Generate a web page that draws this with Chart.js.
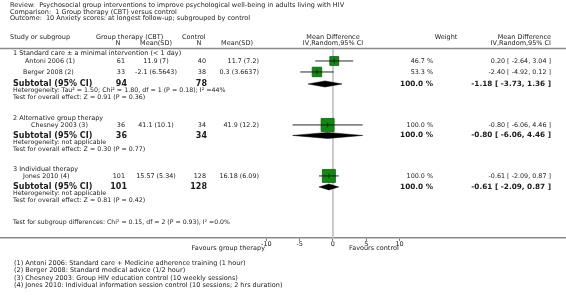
<!DOCTYPE html>
<html><head><meta charset="utf-8">
<script src="https://cdn.jsdelivr.net/npm/chart.js@4"></script>
<style>html,body{margin:0;padding:0;background:#fff;}canvas{display:block;}</style>
</head><body>
<canvas id="c" width="566" height="299"></canvas>
<script>
// ---------- DATA ----------
const reviewTitle = 'Review:  Psychosocial group interventions to improve psychological well-being in adults living with HIV';
const comparisonTitle = 'Comparison:  1 Group therapy (CBT) versus control';
const outcomeTitle = 'Outcome:  10 Anxiety scores: at longest follow-up; subgrouped by control';
const groups = ['1 Standard care \u00b1 a minimal intervention (< 1 day)', '2 Alternative group therapy', '3 Individual therapy'];
const studies = ['Antoni 2006 (1)', 'Berger 2008 (2)', 'Chesney 2003 (3)', 'Jones 2010 (4)'];
const studyGroup = [0, 0, 1, 2];
const expN = [61, 33, 36, 101];
const expMeanSD = ['11.9 (7)', '-2.1 (6.5643)', '41.1 (10.1)', '15.57 (5.34)'];
const ctrlN = [40, 38, 34, 128];
const ctrlMeanSD = ['11.7 (7.2)', '0.3 (3.6637)', '41.9 (12.2)', '16.18 (6.09)'];
const md = [0.20, -2.40, -0.80, -0.61];
const mdLo = [-2.64, -4.92, -6.06, -2.09];
const mdHi = [3.04, 0.12, 4.46, 0.87];
const weight = [46.7, 53.3, 100.0, 100.0];
const subExpN = [94, 36, 101];
const subCtrlN = [78, 34, 128];
const subMd = [-1.18, -0.80, -0.61];
const subLo = [-3.73, -6.06, -2.09];
const subHi = [1.36, 4.46, 0.87];
const subWeight = [100.0, 100.0, 100.0];
const heterogeneity = ['Heterogeneity: Tau\u00b2 = 1.50; Chi\u00b2 = 1.80, df = 1 (P = 0.18); I\u00b2 =44%', 'Heterogeneity: not applicable', 'Heterogeneity: not applicable'];
const overallEffect = ['Test for overall effect: Z = 0.91 (P = 0.36)', 'Test for overall effect: Z = 0.30 (P = 0.77)', 'Test for overall effect: Z = 0.81 (P = 0.42)'];
const subgroupTest = 'Test for subgroup differences: Chi\u00b2 = 0.15, df = 2 (P = 0.93), I\u00b2 =0.0%';
const xTicks = [-10, -5, 0, 5, 10];
const favoursLeft = 'Favours group therapy';
const favoursRight = 'Favours control';
const footnotes = [
  '(1) Antoni 2006: Standard care + Medicine adherence training (1 hour)',
  '(2) Berger 2008: Standard medical advice (1/2 hour)',
  '(3) Chesney 2003: Group HIV education control (10 weekly sessions)',
  '(4) Jones 2010: Individual information session control (10 sessions; 2 hrs duration)'
];

// ---------- LAYOUT (pixel rows, not data) ----------
const groupHeadY = [53, 118, 169.5];
const studyY = [61, 72, 125, 176];
const studyX = [25, 23, 31, 23];
const subY = [84, 135.5, 187];
const hetY = [90.5, 142.5, 193.5];
const testY = [97, 149, 200.5];
const FONT = '"DejaVu Sans", Verdana, sans-serif';
const TXT = '#1c1c1c';

const fmt = (v) => v.toFixed(2);
const ciLabel = (m, l, h) => fmt(m) + ' [ ' + fmt(l) + ', ' + fmt(h) + ' ]';
const wLabel = (w) => w.toFixed(1) + ' %';

// ---------- DATASETS ----------
const datasets = [];
datasets.push({type: 'line', data: [{x: 0, y: 49}, {x: 0, y: 238}], borderColor: '#c4c4c4', borderWidth: 1, pointRadius: 0, order: 5});
datasets.push({
  type: 'scatter',
  data: md.map((m, i) => ({x: m, y: studyY[i]})),
  pointStyle: 'rect',
  pointRadius: weight.map(w => 13 * Math.sqrt(w / 100) / Math.SQRT2),
  backgroundColor: '#108a10', borderColor: '#0b5e0b', borderWidth: 0.8, order: 2
});
md.forEach((m, i) => {
  datasets.push({type: 'line', data: [{x: mdLo[i], y: studyY[i]}, {x: m, y: studyY[i]}, {x: mdHi[i], y: studyY[i]}],
    borderColor: '#111', borderWidth: 0.9, pointStyle: 'line', pointRotation: 90, pointRadius: [0, 2.2, 0],
    pointBorderColor: '#111', pointBorderWidth: 0.8, order: 0});
});
subMd.forEach((m, i) => {
  const y = subY[i], h = 3;
  datasets.push({type: 'line', data: [{x: subLo[i], y: y}, {x: m, y: y - h}, {x: subHi[i], y: y}, {x: m, y: y + h}, {x: subLo[i], y: y}],
    borderColor: '#000', borderWidth: 0.5, backgroundColor: '#000', fill: 'shape', pointRadius: 0, tension: 0, order: 1});
});

// ---------- TEXT PLUGIN ----------
const textPlugin = {
  id: 'forestText',
  afterDraw(chart) {
    const ctx = chart.ctx;
    ctx.save();
    ctx.textBaseline = 'middle';
    ctx.fillStyle = TXT;
    const t = (s, x, y, size, align, bold) => {
      ctx.font = (bold ? 'bold ' : '') + size + 'px ' + FONT;
      ctx.textAlign = align || 'left';
      ctx.fillText(s, x, y);
    };
    t(reviewTitle, 10, 5.5, 6.5);
    t(comparisonTitle, 10, 12, 6.5);
    t(outcomeTitle, 10, 18.5, 6.5);
    t('Study or subgroup', 10, 37.5, 6.5);
    t('Group therapy (CBT)', 96, 37.5, 6.5);
    t('Control', 182, 37.5, 6.5);
    t('Mean Difference', 333, 37.5, 6.5, 'center');
    t('Weight', 446, 37.5, 6.5, 'center');
    t('Mean Difference', 551, 37.5, 6.5, 'right');
    t('N', 118, 43.5, 6.5, 'center');
    t('Mean(SD)', 156, 43.5, 6.5, 'center');
    t('N', 199, 43.5, 6.5, 'center');
    t('Mean(SD)', 237, 43.5, 6.5, 'center');
    t('IV,Random,95% CI', 333, 43.5, 6.5, 'center');
    t('IV,Random,95% CI', 551, 43.5, 6.5, 'right');
    ctx.strokeStyle = '#8a8a8a'; ctx.lineWidth = 1.5;
    ctx.beginPath(); ctx.moveTo(0, 48.5); ctx.lineTo(566, 48.5); ctx.stroke();
    groups.forEach((g, k) => {
      t(g, 13, groupHeadY[k], 6.5);
      t('Subtotal (95% CI)', 13, subY[k], 8, 'left', true);
      t(String(subExpN[k]), 127, subY[k], 8, 'right', true);
      t(String(subCtrlN[k]), 207, subY[k], 8, 'right', true);
      t(wLabel(subWeight[k]), 433, subY[k], 7.3, 'right', true);
      t(ciLabel(subMd[k], subLo[k], subHi[k]), 551, subY[k], 7.3, 'right', true);
      t(heterogeneity[k], 13, hetY[k], 6.3);
      t(overallEffect[k], 13, testY[k], 6.3);
    });
    studies.forEach((s, i) => {
      const y = studyY[i];
      t(s, studyX[i], y, 6.4);
      t(String(expN[i]), 125, y, 6.4, 'right');
      t(expMeanSD[i], 156, y, 6.4, 'center');
      t(String(ctrlN[i]), 206, y, 6.4, 'right');
      t(ctrlMeanSD[i], 259, y, 6.4, 'right');
      t(wLabel(weight[i]), 433, y, 6.4, 'right');
      t(ciLabel(md[i], mdLo[i], mdHi[i]), 551, y, 6.4, 'right');
    });
    t(subgroupTest, 13, 222, 6.2);
    t(favoursLeft, 265, 248.5, 6.5, 'right');
    t(favoursRight, 349, 248.5, 6.5, 'left');
    footnotes.forEach((f, i) => t(f, 14, 263 + i * 7.5, 6.5));
    ctx.restore();
  }
};

new Chart(document.getElementById('c'), {
  type: 'scatter',
  data: {datasets},
  plugins: [textPlugin],
  options: {
    responsive: false, animation: false, devicePixelRatio: 1,
    layout: {autoPadding: false, padding: {left: 0, right: 0, top: 0, bottom: 50.3}},
    plugins: {legend: {display: false}, tooltip: {enabled: false}},
    scales: {
      x: {
        type: 'linear', min: -50, max: 35, position: 'bottom',
        afterBuildTicks: (scale) => { scale.ticks = xTicks.map(v => ({value: v})); },
        grid: {drawOnChartArea: false, drawTicks: true, tickLength: 3, color: '#777', lineWidth: 1},
        border: {display: true, color: '#8a8a8a', width: 1.5},
        ticks: {font: {size: 6.5, family: FONT}, color: TXT, padding: 0, maxRotation: 0, autoSkip: false, callback: (v) => String(v)}
      },
      y: {type: 'linear', min: 0, max: 238, reverse: true, display: false}
    }
  }
});
</script>
</body></html>
